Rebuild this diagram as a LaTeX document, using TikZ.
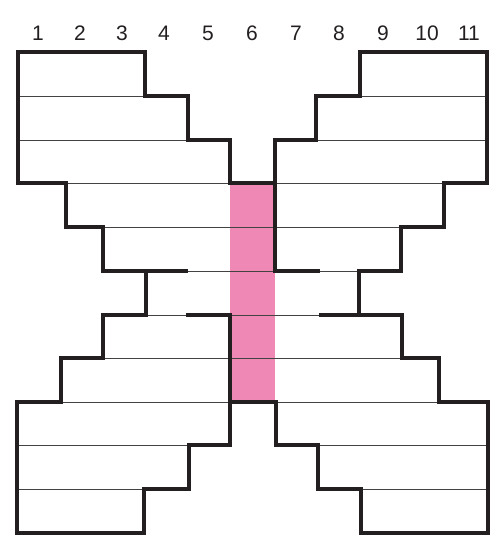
\documentclass[tikz,border=0pt]{standalone}
\usepackage{fontspec}
\setmainfont{Liberation Sans}
\definecolor{ink}{RGB}{35,31,32}
\definecolor{rosy}{RGB}{240,136,182}
\begin{document}
\begin{tikzpicture}[x=1bp,y=-1bp,
  outline/.style={draw=ink,line width=4.2bp,line join=miter,line cap=rect},
  rowline/.style={draw=ink!85,line width=0.9bp},
  lbl/.style={font=\fontsize{21bp}{24bp}\selectfont,text=ink,inner sep=0pt,anchor=center}]
\useasboundingbox (0,0) rectangle (494,537);
% labels
\foreach \n/\x in {1/38,2/80,3/122,4/164,5/208,6/252,7/296,8/339,9/383,10/427,11/469}
  \node[lbl] (c\n) at (\x,33.5) {\n};
% pink column
\fill[rosy] (230,183) rectangle (275,402);
% thin row lines
\draw[rowline] (18,96) -- (145,96) (360,96) -- (487,96);
\draw[rowline] (18,140) -- (188,140) (316,140) -- (487,140);
\draw[rowline] (66,183) -- (444,183);
\draw[rowline] (103,227) -- (401,227);
\draw[rowline] (146,271) -- (359,271);
\draw[rowline] (103,315) -- (402,315);
\draw[rowline] (103,358) -- (402,358);
\draw[rowline] (61,402) -- (439,402);
\draw[rowline] (17,445) -- (189,445) (318,445) -- (488,445);
\draw[rowline] (17,489) -- (144,489) (361,489) -- (488,489);
% thick outlines
\draw[outline] (186,271) -- (103,271) -- (103,227) -- (66,227) -- (66,183) -- (18,183)
  -- (18,52) -- (145,52) -- (145,96) -- (188,96) -- (188,140) -- (230,140) -- (230,183) -- (275,183);
\draw[outline] (318,271) -- (275,271) -- (275,140) -- (316,140) -- (316,96) -- (360,96) -- (360,52)
  -- (487,52) -- (487,183) -- (444,183) -- (444,227) -- (401,227) -- (401,271) -- (359,271) -- (359,315);
\draw[outline] (321,315) -- (402,315) -- (402,358) -- (439,358) -- (439,402) -- (488,402) -- (488,533)
  -- (361,533) -- (361,489) -- (318,489) -- (318,445) -- (276,445) -- (276,402) -- (230,402);
\draw[outline] (188,315) -- (230,315) -- (230,445) -- (189,445) -- (189,489) -- (144,489) -- (144,533)
  -- (17,533) -- (17,402) -- (61,402) -- (61,358) -- (103,358) -- (103,315) -- (146,315) -- (146,271);
\end{tikzpicture}
\end{document}
